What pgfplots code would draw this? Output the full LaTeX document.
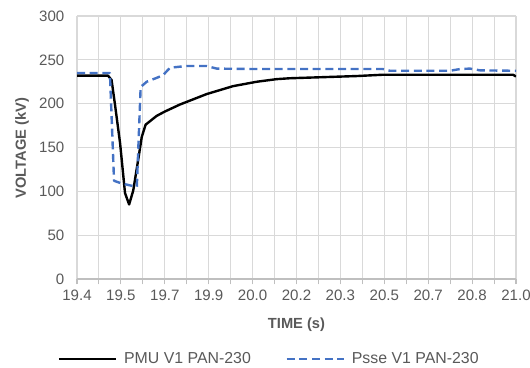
\documentclass[border=0pt]{standalone}
\usepackage{pgfplots}
\pgfplotsset{compat=1.18}
\usepackage{fontspec}
\setmainfont{Liberation Sans}
\definecolor{txtgray}{HTML}{595959}
\definecolor{gridgray}{HTML}{D9D9D9}
\definecolor{axgray}{HTML}{BFBFBF}
\definecolor{psseblue}{HTML}{4472C4}

\begin{document}
\begin{tikzpicture}
\path[use as bounding box] (-57.75pt,-66pt) rectangle (339.75pt,209.25pt);
\begin{axis}[
  at={(0pt,0pt)}, anchor=south west,
  scale only axis,
  width=329.25pt, height=197.25pt,
  xmin=19.4, xmax=21.0, ymin=0, ymax=300,
  xtick={19.40,19.56,19.72,19.88,20.04,20.20,20.36,20.52,20.68,20.84,21.00},
  xticklabels={19.4,19.5,19.7,19.9,20.0,20.2,20.3,20.5,20.7,20.8,21.0},
  minor x tick num=1,
  ytick={0,50,...,300},
  grid=both,
  major grid style={gridgray, line width=0.8pt},
  minor grid style={gridgray, line width=0.8pt},
  axis x line*=bottom,
  axis y line*=left,
  x axis line style={axgray, line width=0.8pt, -},
  y axis line style={draw=none},
  xtick align=outside,
  xtick style={axgray, line width=0.8pt},
  major tick length=4pt, minor tick length=4pt,
  ytick style={draw=none},
  tick label style={font=\fontsize{11.3}{13}\selectfont, text=txtgray},
  /pgf/number format/assume math mode=true,
  xticklabel style={yshift=-1pt},
  yticklabel style={xshift=-6pt},
  xlabel={\textbf{TIME (s)}},
  ylabel={\textbf{VOLTAGE (kV)}},
  label style={font=\fontsize{11}{13}\selectfont, text=txtgray},
  xlabel style={at={(axis description cs:0.5,-0.175)}, anchor=center},
  ylabel style={at={(axis description cs:-0.125,0.498)}, anchor=center, rotate=0},
  legend columns=2,
  legend style={at={(axis description cs:0.4385,-0.305)}, anchor=center, draw=none, fill=none,
    font=\fontsize{11.9}{13}\selectfont, text=txtgray,
    /tikz/every even column/.append style={column sep=24pt}},
  legend image code/.code={\draw[#1] (0pt,0pt) -- (43pt,0pt); \path (46pt,0pt);},
]
\addplot[black, line width=1.8pt, line join=round] coordinates {
  (19.400,232) (19.513,232) (19.526,227) (19.538,200) (19.557,155)
  (19.575,98) (19.590,85) (19.605,101) (19.623,136) (19.636,162)
  (19.650,176) (19.670,181) (19.690,186) (19.720,191) (19.775,199)
  (19.873,211) (19.969,220) (20.055,225) (20.128,228) (20.176,229)
  (20.274,230) (20.419,231.5) (20.515,233) (20.989,233) (21.000,231)
};
\addlegendentry{PMU V1 PAN-230}
\addplot[psseblue, line width=1.8pt, dash pattern=on 6pt off 3.5pt, line join=round] coordinates {
  (19.400,235) (19.520,235) (19.535,112) (19.563,109) (19.618,105)
  (19.632,219) (19.654,225) (19.695,230) (19.715,233) (19.739,241)
  (19.800,243) (19.873,243) (19.909,240) (20.041,239.5) (20.515,239.5)
  (20.541,237.5) (20.759,237.5) (20.796,239.5) (20.832,240) (20.869,238)
  (21.000,237.5)
};
\addlegendentry{Psse V1 PAN-230}
\end{axis}
\end{tikzpicture}
\end{document}
